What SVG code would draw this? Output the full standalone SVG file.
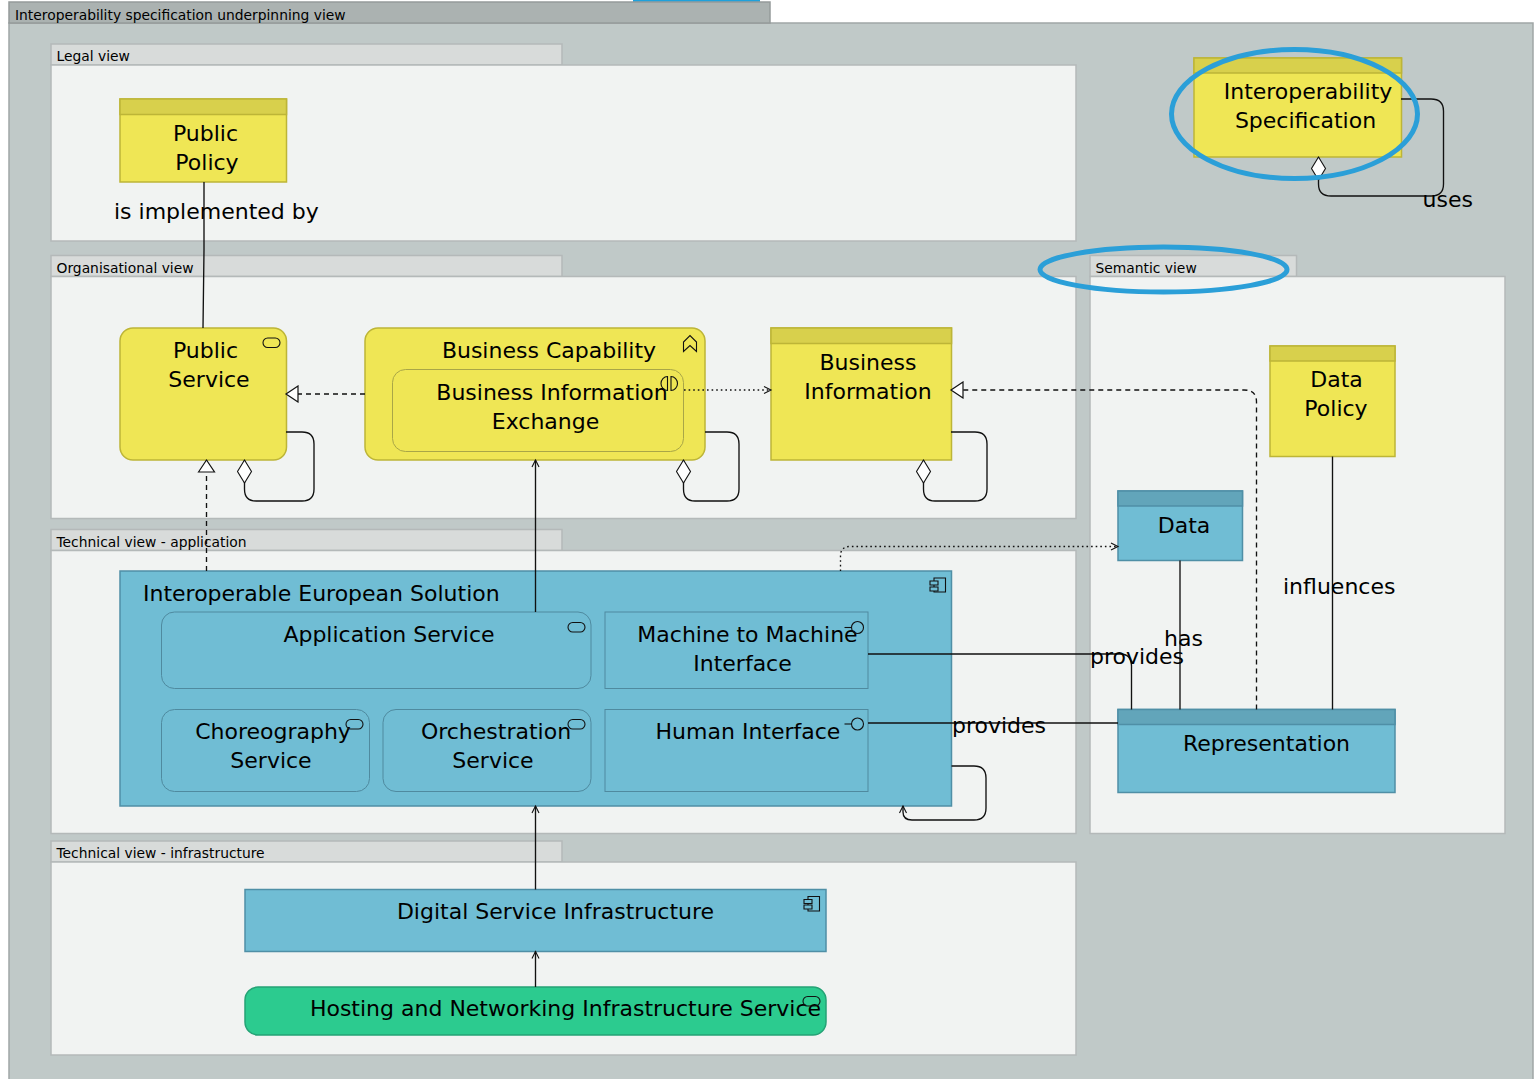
<svg xmlns="http://www.w3.org/2000/svg" width="1535" height="1079" viewBox="0 0 1535 1079">
<style>
text{font-family:"DejaVu Sans",sans-serif;fill:#000}
.t{font-size:22px;text-anchor:middle}
.e{font-size:22px}
.h{font-size:13.85px}
.outer{fill:#c0c9c8;stroke:#a0a6a6;stroke-width:1.5}
.outerh{fill:#abb2b1;stroke:#959b9b;stroke-width:1.5}
.v{fill:#f1f3f2;stroke:#b4b9b9;stroke-width:1.5}
.vh{fill:#d8dbda;stroke:#b4b9b9;stroke-width:1.5}
.y{fill:#efe655;stroke:#bdb537;stroke-width:1.5}
.yh{fill:#d8d04c;stroke:#bdb537;stroke-width:1.5}
.yi{fill:#efe655;stroke:#a9a647;stroke-width:1}
.b{fill:#70bdd4;stroke:#4f8fa6;stroke-width:1.5}
.bh{fill:#62a5ba;stroke:#4f8fa6;stroke-width:1.5}
.bi{fill:#70bdd4;stroke:#4f8a9f;stroke-width:1}
.g{fill:#2ccb8f;stroke:#25a376;stroke-width:1.5}
.c{fill:none;stroke:#111;stroke-width:1.35}
.d{stroke-dasharray:5 4}
.o{stroke-dasharray:1.6 3}
.i{fill:none;stroke:#111;stroke-width:1.1}
.tab{fill:#70bdd4;stroke:#111;stroke-width:1.1}
.ell{fill:none;stroke:#2b9fd8;stroke-width:5}
</style>
<defs>
<marker id="open" markerWidth="10" markerHeight="10" refX="8" refY="4.500" orient="auto" markerUnits="userSpaceOnUse"><path d="M1 1L8 4.500L1 8" fill="none" stroke="#111" stroke-width="1.1"/></marker>
<marker id="tri" markerWidth="16" markerHeight="19" refX="13" refY="9.500" orient="auto" markerUnits="userSpaceOnUse"><path d="M1 1.500L13 9.500L1 17.500Z" fill="#fff" stroke="#111" stroke-width="1.2"/></marker>
<marker id="dia" markerWidth="26" markerHeight="16" refX="24" refY="8" orient="auto" markerUnits="userSpaceOnUse"><path d="M1 8L12.500 1L24 8L12.500 15Z" fill="#fff" stroke="#111" stroke-width="1.1"/></marker>
</defs>
<rect width="1535" height="1079" fill="#fff"/>
<rect x="633" y="0" width="127" height="3" fill="#1ea1dc"/>
<g id="view-underpinning">
<rect class="outer" x="9" y="23" width="1524" height="1060"/>
<rect class="outerh" x="9" y="2" width="761" height="21"/>
<text class="h" x="15" y="19.500">Interoperability specification underpinning view</text>
</g>
<g id="view-legal">
<rect class="vh" x="51" y="44" width="511" height="21"/>
<rect class="v" x="51" y="65" width="1025" height="176"/>
<text class="h" x="56.500" y="61">Legal view</text>
</g>
<g id="view-organisational">
<rect class="vh" x="51" y="255.500" width="511" height="21"/>
<rect class="v" x="51" y="276.500" width="1025" height="242"/>
<text class="h" x="56.500" y="272.500">Organisational view</text>
</g>
<g id="view-application">
<rect class="vh" x="51" y="529.500" width="511" height="21"/>
<rect class="v" x="51" y="550.500" width="1025" height="283"/>
<text class="h" x="56.500" y="546.500">Technical view - application</text>
</g>
<g id="view-infrastructure">
<rect class="vh" x="51" y="841" width="511" height="21"/>
<rect class="v" x="51" y="862" width="1025" height="193"/>
<text class="h" x="56.500" y="858">Technical view - infrastructure</text>
</g>
<g id="view-semantic">
<rect class="vh" x="1090" y="255.500" width="206.500" height="21"/>
<rect class="v" x="1090" y="276.500" width="415" height="557"/>
<text class="h" x="1095.500" y="272.500">Semantic view</text>
</g>
<g id="public-policy">
<rect class="y" x="120" y="99" width="166.500" height="83"/>
<rect class="yh" x="120" y="99" width="166.500" height="15.500"/>
<text class="t" x="205.500" y="141">Public</text>
<text class="t" x="207" y="170">Policy</text>
</g>
<g id="interoperability-specification">
<rect class="y" x="1194" y="58" width="207.500" height="99"/>
<rect class="yh" x="1194" y="58" width="207.500" height="15"/>
<text class="t" x="1308" y="99">Interoperability</text>
<text class="t" x="1305.500" y="128">Specification</text>
</g>
<g id="public-service">
<rect class="y" x="120" y="328" width="166.500" height="132" rx="13"/>
<text class="t" x="205.500" y="358">Public</text>
<text class="t" x="209" y="386.500">Service</text>
<rect class="i" x="263" y="338" width="17" height="9.500" rx="4.700"/>
</g>
<g id="business-capability">
<rect class="y" x="365" y="328" width="340" height="132" rx="13"/>
<text class="t" x="549" y="358">Business Capability</text>
<path class="i" d="M683.500 342V351.500L690 345.500L696.500 351.500V342L690 335.500Z"/>
</g>
<g id="business-information-exchange">
<rect class="yi" x="392.500" y="369.500" width="291" height="82" rx="13"/>
<text class="t" x="552" y="399.500">Business Information</text>
<text class="t" x="545.500" y="428.500">Exchange</text>
<path class="i" d="M667.500 376.500a6.500 7 0 0 0 0 14ZM671 376.500a6.500 7 0 0 1 0 14Z"/>
</g>
<g id="business-information">
<rect class="y" x="771" y="328" width="180.500" height="132"/>
<rect class="yh" x="771" y="328" width="180.500" height="15.500"/>
<text class="t" x="868" y="369.500">Business</text>
<text class="t" x="868" y="398.500">Information</text>
</g>
<g id="data-policy">
<rect class="y" x="1270" y="346" width="125" height="110.500"/>
<rect class="yh" x="1270" y="346" width="125" height="15"/>
<text class="t" x="1336.500" y="387">Data</text>
<text class="t" x="1336" y="415.500">Policy</text>
</g>
<g id="data">
<rect class="b" x="1118" y="491" width="124.500" height="69.500"/>
<rect class="bh" x="1118" y="491" width="124.500" height="15"/>
<text class="t" x="1184" y="532.500">Data</text>
</g>
<g id="representation">
<rect class="b" x="1118" y="709.500" width="277" height="83"/>
<rect class="bh" x="1118" y="709.500" width="277" height="15"/>
<text class="t" x="1266.500" y="750.500">Representation</text>
</g>
<g id="interoperable-european-solution">
<rect class="b" x="120" y="571" width="831.500" height="235"/>
<text class="e" x="143" y="600.500">Interoperable European Solution</text>
<path class="i" d="M934 578H945.500V592H934Z" stroke-width="1.300"/>
<path class="tab" d="M930 581H938V585H930ZM930 587H938V591H930Z"/>
</g>
<g id="application-service">
<rect class="bi" x="161.500" y="612" width="429.500" height="76.500" rx="13"/>
<text class="t" x="389" y="642">Application Service</text>
<rect class="i" x="568" y="622.500" width="17" height="9.500" rx="4.700"/>
</g>
<g id="machine-interface">
<rect class="bi" x="605" y="612" width="263" height="76.500"/>
<text class="t" x="747.500" y="642">Machine to Machine</text>
<text class="t" x="742.500" y="670.500">Interface</text>
<circle class="i" cx="857.500" cy="627.500" r="6"/>
<path class="i" d="M844.500 627.500H851.500"/>
</g>
<g id="choreography-service">
<rect class="bi" x="161.500" y="709.500" width="208" height="82" rx="13"/>
<text class="t" x="273" y="739">Choreography</text>
<text class="t" x="271" y="768">Service</text>
<rect class="i" x="346" y="719.500" width="17" height="9.500" rx="4.700"/>
</g>
<g id="orchestration-service">
<rect class="bi" x="383" y="709.500" width="208" height="82" rx="13"/>
<text class="t" x="496" y="739">Orchestration</text>
<text class="t" x="493" y="768">Service</text>
<rect class="i" x="568" y="719.500" width="17" height="9.500" rx="4.700"/>
</g>
<g id="human-interface">
<rect class="bi" x="605" y="709.500" width="263" height="82"/>
<text class="t" x="748" y="739">Human Interface</text>
<circle class="i" cx="857.500" cy="724" r="6"/>
<path class="i" d="M844.500 724H851.500"/>
</g>
<g id="digital-service-infrastructure">
<rect class="b" x="245" y="889.500" width="581" height="62"/>
<text class="t" x="555.500" y="919">Digital Service Infrastructure</text>
<path class="i" d="M808 896.500H819.500V911H808Z" stroke-width="1.300"/>
<path class="tab" d="M804 899.500H812V903.500H804ZM804 905H812V909H804Z"/>
</g>
<g id="hosting-service">
<rect class="g" x="245" y="987" width="581" height="48" rx="13"/>
<text class="t" x="565.500" y="1016">Hosting and Networking Infrastructure Service</text>
<rect class="i" x="803" y="996.500" width="17" height="9.500" rx="4.700"/>
</g>
<g id="connectors">
<path class="c" d="M204 182L204 250L203 328"/>
<path class="c" d="M1401 99H1431Q1443.500 99 1443.500 111V184Q1443.500 196 1431 196H1331Q1318.500 196 1318.500 184V157" marker-end="url(#dia)"/>
<path class="c" d="M286 432H302Q314 432 314 444V489Q314 501 302 501H256Q244.500 501 244.500 489V460" marker-end="url(#dia)"/>
<path class="c" d="M705 432H727Q739 432 739 444V489Q739 501 727 501H695Q683.500 501 683.500 489V460" marker-end="url(#dia)"/>
<path class="c" d="M951 432H975Q987 432 987 444V489Q987 501 975 501H935Q923.500 501 923.500 489V460" marker-end="url(#dia)"/>
<path class="c d" d="M365 394H286" marker-end="url(#tri)"/>
<path class="c d" d="M206.500 571V460" marker-end="url(#tri)"/>
<path class="c o" d="M684 390H771" marker-end="url(#open)"/>
<path class="c" d="M535.500 612V460" marker-end="url(#open)"/>
<path class="c o" d="M840.500 571V556Q840.500 546.500 850 546.500H1118" marker-end="url(#open)"/>
<path class="c d" d="M1256.500 709.500V402Q1256.500 390 1244 390H951" marker-end="url(#tri)"/>
<path class="c" d="M1180 560.500V709.500"/>
<path class="c" d="M1332.500 456.500V709.500"/>
<path class="c" d="M868 654H1120Q1131.500 654 1131.500 666V709.500"/>
<path class="c" d="M868 723H1118"/>
<path class="c" d="M951.500 766H974Q986 766 986 778V808Q986 820 974 820H912Q903 820 903 812V806" marker-end="url(#open)"/>
<path class="c" d="M535.500 889.500V806" marker-end="url(#open)"/>
<path class="c" d="M535.500 987V951.500" marker-end="url(#open)"/>
</g>
<g id="connector-labels">
<text class="e" x="114" y="219">is implemented by</text>
<text class="e" x="1422.500" y="206.500">uses</text>
<text class="e" x="1283" y="593.500">influences</text>
<text class="e" x="1164" y="645.500">has</text>
<text class="e" x="1090" y="663.500">provides</text>
<text class="e" x="952" y="733">provides</text>
</g>
<g id="highlights">
<ellipse class="ell" cx="1294.500" cy="114" rx="123" ry="64.500"/>
<ellipse class="ell" cx="1163.500" cy="269.500" rx="123.500" ry="22.500"/>
</g>
</svg>
